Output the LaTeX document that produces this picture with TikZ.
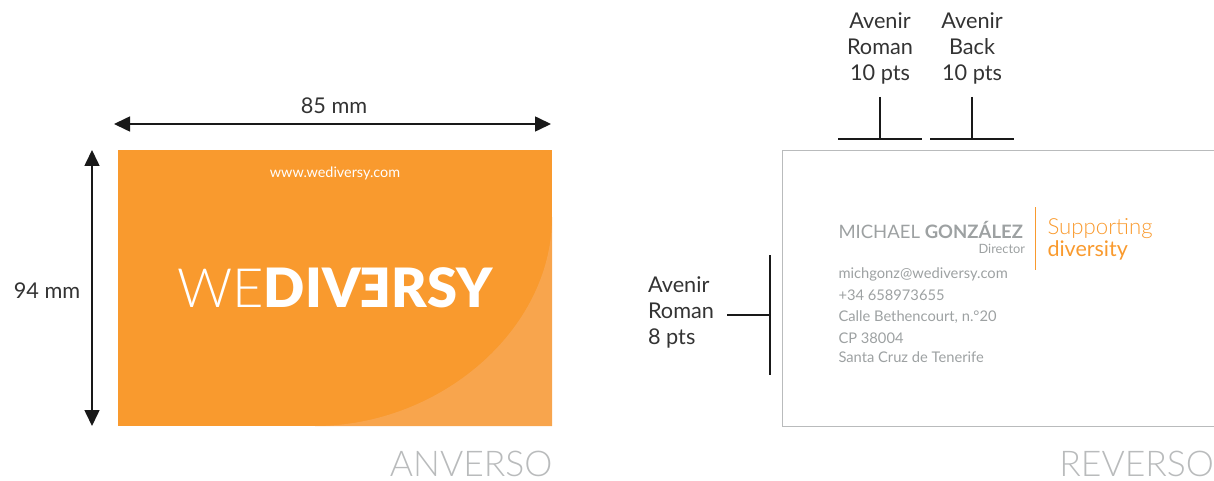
\documentclass[tikz,border=0pt]{standalone}
\usepackage{fontspec}
\setmainfont{Lato}
\newfontfamily\lightf{Lato Light}
\newfontfamily\heavyf{Lato Black}
\usetikzlibrary{arrows.meta}
\definecolor{cardorange}{HTML}{F99A2E}
\definecolor{cardpale}{HTML}{F8A54D}
\definecolor{cardgray}{HTML}{9DA1A2}
\definecolor{titlegray}{HTML}{B9BBBC}
\tikzset{
    every node/.style={inner sep=0pt, outer sep=0pt},
    dim/.style={line width=1.6pt, {Triangle[width=15pt,length=16pt]}-{Triangle[width=15pt,length=16pt]}, black!90},
    tick/.style={line width=1.3pt, black!90},
    note/.style={font=\fontsize{21.7}{26}\selectfont, text=black!80, align=center},
    cardline/.style={font=\fontsize{14.7}{16}\selectfont, text=cardgray, anchor=west},
    slogan/.style={font=\fontsize{21.5}{24}\selectfont, text=cardorange, anchor=west},
    side/.style={font=\lightf\fontsize{35.5}{36}\selectfont, text=titlegray, anchor=east}
}
\begin{document}
\begin{tikzpicture}[x=1pt, y=-1pt]
    \useasboundingbox (0, 0) rectangle (1214, 481);
    % anverso
    \fill[cardorange] (118, 150) rectangle (552, 426);
    \fill[cardpale] (552, 217) .. controls (552, 330) and (440, 426) .. (315, 426) -- (552, 426) -- cycle;
    \node[font=\fontsize{14.4}{16}\selectfont, text=white] (web) at (335, 173.5) {www.wediversy.com};
    \node[font=\fontsize{54.2}{60}\selectfont, text=white, anchor=base] (logo) at (335, 307)
        {{\lightf WE}{\heavyf DIV\scalebox{-1}[1]{E}RSY}};
    \node[side] (front) at (552.5, 464) {ANVERSO};

    % medidas
    \coordinate (wl) at (114, 124);
    \coordinate (wr) at (551, 124);
    \coordinate (ht) at (92, 150);
    \coordinate (hb) at (92, 426);
    \draw[dim] (wl) -- (wr);
    \draw[dim] (ht) -- (hb);
    \node[note] (wlabel) at (334, 106) {85 mm};
    \node[note] (hlabel) at (47, 291) {94 mm};

    % reverso
    \draw[titlegray, line width=0.9pt] (1215, 150) -- (782, 150) -- (782, 426) -- (1215, 426);
    \node[font=\fontsize{18.5}{20}\selectfont, text=cardgray, anchor=west] (name) at (838.5, 229.5) {MICHAEL {\bfseries GONZÁLEZ}};
    \node[font=\fontsize{12.8}{14}\selectfont, text=cardgray, anchor=east] (role) at (1025, 249) {Director};
    \coordinate (st) at (1035, 207);
    \coordinate (sb) at (1035, 270);
    \draw[cardorange] (st) -- (sb);
    \node[slogan, font=\lightf\fontsize{22.2}{24}\selectfont] (sup) at (1047.5, 228.5) {Supporting};
    \node[slogan] (div) at (1047.5, 250.5) {diversity};
    \node[cardline] (mail) at (838.5, 274) {michgonz@wediversy.com};
    \node[cardline] (tel) at (838.5, 295) {+34 658973655};
    \node[cardline] (street) at (838.5, 317) {Calle Bethencourt, n.°20};
    \node[cardline] (zip) at (838.5, 338) {CP 38004};
    \node[cardline] (city) at (838.5, 357) {Santa Cruz de Tenerife};
    \node[side] (back) at (1214, 464) {REVERSO};

    % tipografias
    \node[note] (roman) at (880, 48.5) {Avenir\\Roman\\10 pts};
    \node[note] (bold) at (972, 48.5) {Avenir\\Back\\10 pts};
    \node[note, align=left] (small) at (681, 312.5) {Avenir\\Roman\\8 pts};
    \coordinate (ra) at (880, 97);
    \coordinate (rb) at (880, 139);
    \coordinate (rl) at (838, 139);
    \coordinate (rr) at (922, 139);
    \coordinate (ba) at (972, 97);
    \coordinate (bb) at (972, 139);
    \coordinate (bl) at (930, 139);
    \coordinate (br) at (1014, 139);
    \coordinate (sa) at (727, 315);
    \coordinate (sc) at (770, 315);
    \coordinate (su) at (770, 255);
    \coordinate (sd) at (770, 375);
    \draw[tick] (ra) -- (rb);
    \draw[tick] (rl) -- (rr);
    \draw[tick] (ba) -- (bb);
    \draw[tick] (bl) -- (br);
    \draw[tick] (sa) -- (sc);
    \draw[tick] (su) -- (sd);
\end{tikzpicture}
\end{document}
